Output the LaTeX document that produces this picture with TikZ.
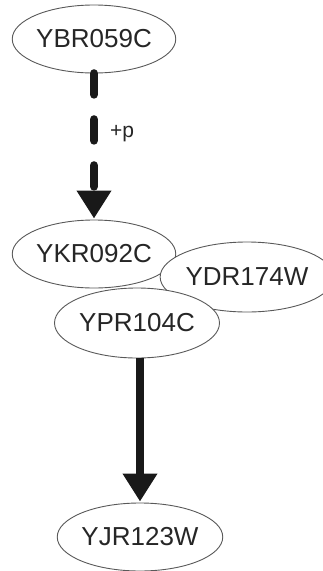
\documentclass[tikz,border=0pt]{standalone}
\usepackage{fontspec}
\setmainfont{Liberation Sans}
\usetikzlibrary{arrows.meta,shapes.geometric}
\begin{document}
\begin{tikzpicture}[x=1pt,y=-1pt,
  gene/.style={ellipse,draw=black!65,line width=0.9pt,fill=white,
    minimum width=#1,inner sep=0pt,text=black!85},
  gene/.default=162pt,
  arr/.style={line width=8.5pt,draw=black!90,-{Triangle[width=33pt,length=28pt]}}]
\useasboundingbox (0,0) rectangle (323,571);
\newcommand{\gtxt}[1]{\fontsize{26}{28}\selectfont #1}
\node[gene=162pt,minimum height=68pt] (ybr) at (94,39) {\gtxt{YBR059C}};
\node[gene=163pt,minimum height=68pt] (ykr) at (94,254) {\gtxt{YKR092C}};
\node[gene=157pt,minimum height=70pt] (ydr) at (247,277) {\gtxt{YDR174W}};
\node[gene=165pt,minimum height=70pt] (ypr) at (137,323) {\gtxt{YPR104C}};
\node[gene=163pt,minimum height=68pt] (yjr) at (140,537) {\gtxt{YJR123W}};
\draw[arr,line cap=round,dash pattern=on 21pt off 25pt,shorten >=1pt] (ybr.south) -- (ykr.north);
\node[text=black!85,anchor=west,inner sep=0pt] (lbl) at (110,134) {\fontsize{21}{23}\selectfont +p};
\draw[arr,shorten >=1pt] (yjr.north |- ypr.south) -- (yjr.north);
\end{tikzpicture}
\end{document}
